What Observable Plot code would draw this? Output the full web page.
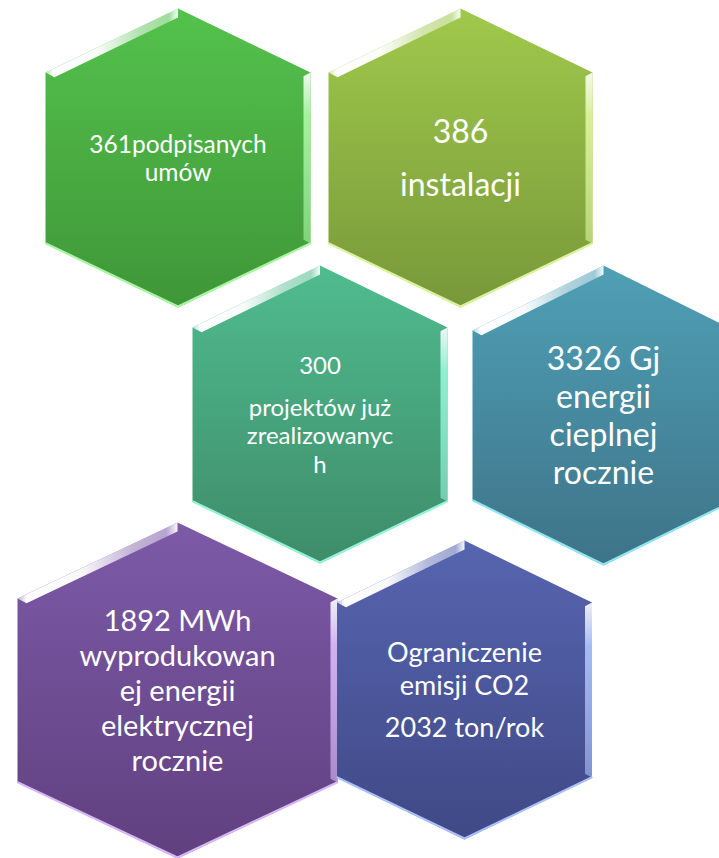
<!DOCTYPE html>
<html>
<head>
<meta charset="utf-8">
<script src="https://cdn.jsdelivr.net/npm/d3@7"></script>
<script src="https://cdn.jsdelivr.net/npm/@observablehq/plot@0.6"></script>
<style>
  html, body { margin: 0; padding: 0; background: #ffffff; }
  #chart svg { display: block; }
</style>
</head>
<body>
<div id="chart"></div>
<script>
// ---- data (text of each hexagon, grouped in paragraphs) ----
const hexIds = ["umowy", "instalacje", "projekty", "cieplo", "prad", "co2"];
const hexParagraphs = [
  [["361podpisanych", "umów"]],
  [["386"], ["instalacji"]],
  [["300"], ["projektów już", "zrealizowanyc", "h"]],
  [["3326 Gj", "energii", "cieplnej", "rocznie"]],
  [["1892 MWh", "wyprodukowan", "ej energii", "elektrycznej", "rocznie"]],
  [["Ograniczenie", "emisji CO2"], ["2032 ton/rok"]]
];

// ---- styles ----
const topColors    = ["#54c24c", "#a0c94b", "#50bc90", "#4fa0b6", "#7d5aa8", "#5765b0"];
const bottomColors = ["#3f9638", "#78983a", "#3e8c69", "#3e7388", "#60407f", "#404986"];
const edgeColors   = ["#a8f5a2", "#daf39c", "#92f3d6", "#8ee6f2", "#d6b8f6", "#a9c0f8"];
const fontSizes    = [24.5, 32, 24, 32, 29, 27];
const lineHeights  = [28, 39, 28.5, 38.3, 34.8, 33];
const paraGaps     = [0, 14, 13.5, 0, 0, 9];

// ---- layout (centre x, top y, width, cap height, side length) ----
const hexLayout = [
  {cx: 177.5, top: 8,   w: 265, cap: 64, side: 171},
  {cx: 460,   top: 8,   w: 264, cap: 64, side: 171},
  {cx: 319.5, top: 265, w: 255, cap: 62, side: 174},
  {cx: 603,   top: 265, w: 262, cap: 65, side: 170},
  {cx: 177,   top: 522, w: 320, cap: 76, side: 184},
  {cx: 464,   top: 540, w: 255, cap: 62, side: 175}
];

const W = 719, H = 858;

function geom(h) {
  const L = h.cx - h.w / 2, R = h.cx + h.w / 2;
  const U = h.top + h.cap, Lo = U + h.side, B = Lo + h.cap;
  return {L, R, U, Lo, B, T: h.top, cx: h.cx, cy: (h.top + B) / 2};
}
const pts = arr => arr.map(([x, y], k) => ({x, y, k}));

const marks = [];
hexLayout.forEach((h, i) => {
  const g = geom(h);
  const d = 9, s = 0.48;
  // body
  marks.push(Plot.line(pts([[g.cx, g.T], [g.R, g.U], [g.R, g.Lo], [g.cx, g.B], [g.L, g.Lo], [g.L, g.U], [g.cx, g.T]]),
    {x: "x", y: "y", fill: `url(#body${i})`, stroke: "none", curve: "linear"}));
  // upper-left glossy bevel
  marks.push(Plot.line(pts([[g.L, g.U], [g.cx, g.T], [g.cx, g.T + d], [g.L + d, g.U + (1 - s) * d], [g.L, g.U]]),
    {x: "x", y: "y", fill: `url(#gloss${i})`, stroke: "none", curve: "linear"}));
  // right side bevel
  const r = 7;
  marks.push(Plot.line(pts([[g.R, g.U], [g.R, g.Lo], [g.R - r, g.Lo - (1 - s) * r], [g.R - r, g.U + (1 - s) * r], [g.R, g.U]]),
    {x: "x", y: "y", fill: `url(#side${i})`, stroke: "none", curve: "linear"}));
  // bottom light edge
  marks.push(Plot.line(pts([[g.L + 0.5, g.Lo], [g.cx, g.B - 1], [g.R - 0.5, g.Lo]]),
    {x: "x", y: "y", stroke: edgeColors[i], strokeWidth: 2.2, curve: "linear"}));
  // text
  const rows = [];
  let off = 0, first = true;
  hexParagraphs[i].forEach((para, p) => {
    if (p > 0) off += paraGaps[i];
    para.forEach(line => {
      if (!first) off += lineHeights[i];
      first = false;
      rows.push({text: line, off});
    });
  });
  const span = off, capH = 0.72 * fontSizes[i];
  const start = g.cy - (span - capH) / 2;
  rows.forEach(rw => { rw.x = g.cx; rw.y = start + rw.off; });
  marks.push(Plot.text(rows, {
    x: "x", y: "y", text: "text", fill: "#ffffff", fontSize: fontSizes[i],
    fontFamily: "Lato", textAnchor: "middle", lineAnchor: "bottom"
  }));
});

const svg = Plot.plot({
  width: W, height: H, margin: 0,
  style: {background: "#ffffff", overflow: "hidden"},
  x: {domain: [0, W], range: [0, W], axis: null},
  y: {domain: [0, H], range: [0, H], axis: null},
  marks
});

// gradients
const defs = d3.select(svg).insert("defs", ":first-child");
hexLayout.forEach((h, i) => {
  const b = defs.append("linearGradient").attr("id", `body${i}`).attr("x1", 0).attr("y1", 0).attr("x2", 0).attr("y2", 1);
  b.append("stop").attr("offset", 0).attr("stop-color", topColors[i]);
  b.append("stop").attr("offset", 1).attr("stop-color", bottomColors[i]);

  const gl = defs.append("linearGradient").attr("id", `gloss${i}`).attr("x1", 0).attr("y1", 0).attr("x2", 1).attr("y2", 0);
  [[0, 0.55], [0.06, 1], [0.4, 0.95], [0.72, 0.55], [0.93, 0.45], [1, 0.95]].forEach(([o, a]) =>
    gl.append("stop").attr("offset", o).attr("stop-color", "#ffffff").attr("stop-opacity", a));

  const sd = defs.append("linearGradient").attr("id", `side${i}`).attr("x1", 0).attr("y1", 0).attr("x2", 0).attr("y2", 1);
  sd.append("stop").attr("offset", 0).attr("stop-color", "#ffffff").attr("stop-opacity", 0.9);
  sd.append("stop").attr("offset", 0.25).attr("stop-color", edgeColors[i]).attr("stop-opacity", 0.95);
  sd.append("stop").attr("offset", 1).attr("stop-color", edgeColors[i]).attr("stop-opacity", 0.6);
});

document.getElementById("chart").appendChild(svg);
</script>
</body>
</html>
